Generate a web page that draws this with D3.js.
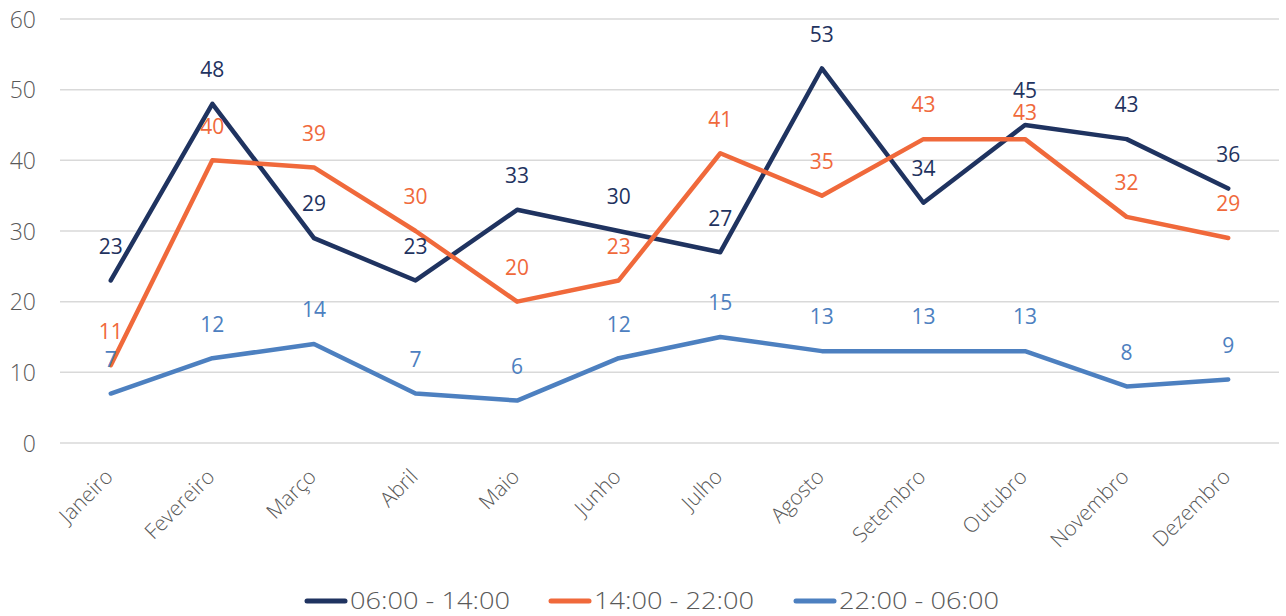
<!DOCTYPE html>
<html>
<head>
<meta charset="utf-8">
<script src="https://cdn.jsdelivr.net/npm/d3@7"></script>
<style>
  body { margin: 0; background: #fff; }
  svg text { font-family: "Open Sans", Lato, sans-serif; }
</style>
</head>
<body>
<div id="chart"></div>
<script>
// dados
let meses = ["Janeiro", "Fevereiro", "Março", "Abril", "Maio", "Junho", "Julho", "Agosto", "Setembro", "Outubro", "Novembro", "Dezembro"]
let turno1 = [23, 48, 29, 23, 33, 30, 27, 53, 34, 45, 43, 36]
let turno2 = [11, 40, 39, 30, 20, 23, 41, 35, 43, 43, 32, 29]
let turno3 = [7, 12, 14, 7, 6, 12, 15, 13, 13, 13, 8, 9]
let nomes = ["06:00 - 14:00", "14:00 - 22:00", "22:00 - 06:00"]
let yTicks = [0, 10, 20, 30, 40, 50, 60]

let cores = ["#1f3360", "#f0693b", "#4d80c0"]
let series = [turno1, turno2, turno3]

let width = 1286, height = 616
let margin = { top: 19, right: 7, bottom: 173, left: 60 }

let svg = d3.select("#chart").append("svg")
    .attr("width", width)
    .attr("height", height)

let x = d3.scalePoint()
    .domain(meses)
    .range([margin.left, width - margin.right])
    .padding(0.5)

let y = d3.scaleLinear()
    .domain([0, 60])
    .range([height - margin.bottom, margin.top])

// grade
svg.append("g")
    .selectAll("line")
    .data(yTicks)
    .enter().append("line")
    .attr("x1", margin.left)
    .attr("x2", width - margin.right)
    .attr("y1", d => y(d))
    .attr("y2", d => y(d))
    .attr("stroke", "#d9d9d9")
    .attr("stroke-width", 1.5)

// eixo y
let yAxisG = svg.append("g")
    .attr("transform", "translate(" + margin.left + ",0)")
    .call(d3.axisLeft(y).tickValues(yTicks).tickSize(0).tickPadding(24))
yAxisG.select(".domain").remove()
yAxisG.selectAll("text")
    .attr("fill", "#595959")
    .style("font-size", "23px")
    .style("font-weight", 300)
    .attr("dy", "0.35em")

// eixo x
let xAxisG = svg.append("g")
    .attr("transform", "translate(0," + (height - margin.bottom) + ")")
    .call(d3.axisBottom(x).tickSize(0).tickPadding(0))
xAxisG.select(".domain").remove()
xAxisG.selectAll("text")
    .attr("fill", "#595959")
    .style("font-size", "21px")
    .style("font-weight", 300)
    .attr("text-anchor", "end")
    .attr("dy", null)
    .attr("y", 0)
    .attr("transform", "translate(3,35) rotate(-45)")

// linhas
let line = d3.line()
    .x((d, i) => x(meses[i]))
    .y(d => y(d))

series.forEach(function (s, k) {
    svg.append("path")
        .datum(s)
        .attr("d", line)
        .attr("fill", "none")
        .attr("stroke", cores[k])
        .attr("stroke-width", 4.5)
        .attr("stroke-linejoin", "round")
        .attr("stroke-linecap", "round")
})

// rótulos (o 43 de Outubro fica um pouco mais baixo, como no original)
series.forEach(function (s, k) {
    svg.append("g")
        .selectAll("text")
        .data(s)
        .enter().append("text")
        .attr("x", (d, i) => x(meses[i]))
        .attr("y", (d, i) => y(d) - ((k == 1 && i == 9) ? 26 : 34))
        .attr("dy", "0.35em")
        .attr("text-anchor", "middle")
        .attr("fill", cores[k])
        .style("font-size", "21px")
        .text(d => d)
})

// legenda
let legX = [305, 549, 794]
let leg = svg.append("g")
nomes.forEach(function (n, k) {
    leg.append("line")
        .attr("x1", legX[k] + 2)
        .attr("x2", legX[k] + 40)
        .attr("y1", 601)
        .attr("y2", 601)
        .attr("stroke", cores[k])
        .attr("stroke-width", 5)
        .attr("stroke-linecap", "round")
    leg.append("text")
        .attr("x", legX[k] + 45)
        .attr("y", 601)
        .attr("dy", "0.35em")
        .attr("fill", "#595959")
        .style("font-size", "24px")
        .style("font-weight", 300)
        .attr("textLength", 160)
        .attr("lengthAdjust", "spacingAndGlyphs")
        .text(n)
})
</script>
</body>
</html>
